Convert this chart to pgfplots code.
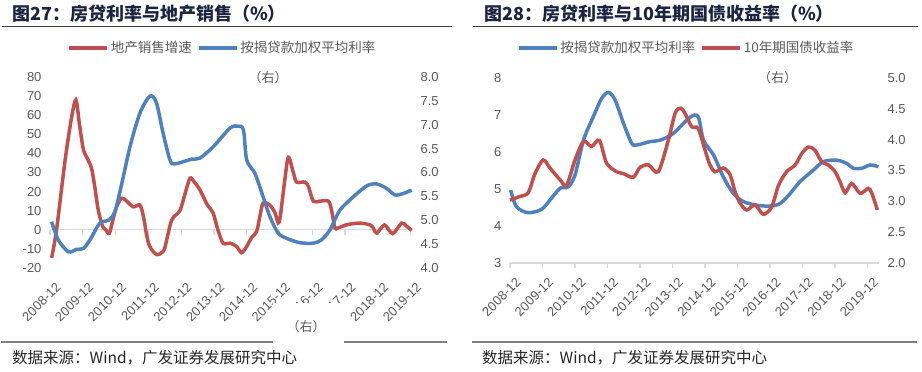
\documentclass[border=0pt]{standalone}
\usepackage{pgfplots}
\pgfplotsset{compat=1.18}
\usepackage{fontspec}
\setmainfont{Liberation Sans}
\newfontfamily\cjk{Noto Sans CJK SC}
\definecolor{myred}{HTML}{C0504D}
\definecolor{myblue}{HTML}{4F81BD}
\definecolor{txt}{HTML}{595959}
\definecolor{titlec}{HTML}{1B2440}
\definecolor{rulec}{HTML}{404040}
\definecolor{brule}{HTML}{808080}
\definecolor{zline}{HTML}{D9D9D9}
\pgfplotsset{
  base/.style={scale only axis, clip=false,
    /pgf/number format/assume math mode=true,
    ticklabel style={font=\fontsize{13}{15}\selectfont, text=txt},
    axis line style={draw=none}, major tick length=0pt, tick style={draw=none}},
  leg/.style={legend style={draw=none, fill=none, anchor=center,
      font=\cjk\fontsize{13.5}{15}\selectfont, text=txt,
      /tikz/every even column/.append style={column sep=3pt}},
    legend columns=2,
    legend image code/.code={\draw[##1] (0pt,0pt) -- (38pt,0pt);}},
  yrs/.style={xtick={0,1,2,3,4,5,6,7,8,9,10,11},
    xticklabels={2008-12,2009-12,2010-12,2011-12,2012-12,2013-12,2014-12,2015-12,2016-12,2017-12,2018-12,2019-12},
    xticklabel style={xshift=5pt, yshift=-9pt, rotate=45, anchor=north east}},
  rl/.style={color=myred, line width=3.5pt, smooth, tension=0.5},
  bl/.style={color=myblue, line width=3.5pt, smooth, tension=0.5},
}
\begin{document}
\begin{tikzpicture}
\path[use as bounding box] (0pt,0pt) rectangle (922pt,372pt);
% ---------------- left panel ----------------
\begin{axis}[base, yrs, leg, at={(50pt,104pt)}, anchor=south west, width=362pt, height=191pt,
  xmin=0, xmax=11.04, ymin=-20, ymax=80, ytick={-20,-10,...,80},
  axis y line*=left, axis x line*=bottom, yticklabel style={xshift=-5pt},
  legend style={at={(0.4765,1.152)}}]
\draw[zline, line width=1.3pt] (axis cs:0,0) -- (axis cs:11.04,0);
\pgfplotsinvokeforeach{0,1,2,3,4,5,6,7,8,9,10,11}{\draw[zline, line width=1.3pt] (axis cs:#1,0) -- ++(0pt,-5pt);}
\addplot[rl] coordinates {(0.05,-14.7) (0.2,0) (0.45,35) (0.65,58) (0.79,68) (0.9,55) (1.02,42) (1.15,37) (1.27,32) (1.37,22) (1.47,10.5) (1.6,2) (1.7,0) (1.81,-1.8) (1.93,6) (2.03,12) (2.18,16.5) (2.34,15) (2.54,12) (2.74,13) (2.85,7) (2.95,-3) (3.05,-9) (3.25,-13) (3.4,-12) (3.5,-9.5) (3.71,5) (3.96,10) (4.12,19) (4.27,27) (4.4,25) (4.57,21) (4.8,13) (4.97,9) (5.12,0) (5.28,-7) (5.49,-7) (5.69,-8.7) (5.84,-12) (6.0,-8.7) (6.15,-4) (6.3,-1) (6.4,7) (6.5,14) (6.7,13) (6.86,9) (6.99,4) (7.16,26) (7.27,38) (7.42,30) (7.52,25) (7.77,25) (7.88,22.7) (8.03,15) (8.23,15) (8.49,15) (8.59,10) (8.69,1) (8.79,1) (9.04,2.6) (9.45,3.5) (9.8,2.2) (9.96,-1.7) (10.2,2.5) (10.45,-2) (10.72,3.5) (10.87,2) (11.03,-0.3)};
\addlegendentry{地产销售增速}
\addlegendimage{bl}
\addlegendentry{按揭贷款加权平均利率}
\end{axis}
\begin{axis}[base, at={(50pt,104pt)}, anchor=south west, width=362pt, height=191pt,
  xmin=0, xmax=11.04, ymin=4, ymax=8, ytick={4,4.5,...,8},
  axis y line*=right, axis x line=none, yticklabel style={xshift=5pt},
  /pgf/number format/fixed, /pgf/number format/fixed zerofill, /pgf/number format/precision=1]
\addplot[bl] coordinates {(0.05,4.97) (0.25,4.59) (0.56,4.34) (0.81,4.39) (1.02,4.41) (1.22,4.59) (1.52,4.94) (1.78,5.0) (1.98,5.18) (2.19,5.77) (2.44,6.54) (2.74,7.24) (3.05,7.6) (3.25,7.45) (3.45,6.82) (3.66,6.26) (3.81,6.18) (4.32,6.28) (4.57,6.3) (4.98,6.54) (5.49,6.93) (5.74,6.97) (5.9,6.89) (6.0,6.26) (6.25,5.98) (6.5,5.49) (6.71,5.07) (6.96,4.73) (7.22,4.62) (7.62,4.53) (8.03,4.52) (8.28,4.59) (8.54,4.8) (8.84,5.21) (9.25,5.49) (9.66,5.72) (9.96,5.76) (10.26,5.67) (10.52,5.53) (10.77,5.56) (11.03,5.63)};
\end{axis}
% ---------------- right panel ----------------
\begin{axis}[base, yrs, leg, at={(510pt,109pt)}, anchor=south west, width=369pt, height=185pt,
  xmin=0, xmax=11.35, ymin=3, ymax=8, ytick={3,4,...,8},
  axis y line*=left, axis x line*=bottom, yticklabel style={xshift=-5pt},
  legend style={at={(0.477,1.162)}}]
\draw[zline, line width=1.3pt] (axis cs:0,3) -- (axis cs:11.35,3);
\pgfplotsinvokeforeach{0,1,2,3,4,5,6,7,8,9,10,11}{\draw[zline, line width=1.3pt] (axis cs:#1,3) -- ++(0pt,-5pt);}
\addplot[bl] coordinates {(0.02,4.97) (0.2,4.52) (0.56,4.36) (0.97,4.45) (1.23,4.70) (1.54,5.02) (1.79,5.06) (2.0,5.38) (2.26,6.32) (2.56,6.95) (2.82,7.45) (3.03,7.61) (3.23,7.41) (3.49,6.78) (3.74,6.24) (3.9,6.19) (4.31,6.28) (4.62,6.32) (5.02,6.5) (5.54,6.94) (5.79,6.95) (5.95,6.32) (6.26,5.92) (6.56,5.33) (6.87,4.88) (7.18,4.66) (7.59,4.56) (8.0,4.54) (8.31,4.61) (8.62,4.88) (8.92,5.2) (9.33,5.51) (9.64,5.74) (10.05,5.78) (10.36,5.69) (10.56,5.56) (10.82,5.56) (11.08,5.65) (11.33,5.6)};
\addlegendentry{按揭贷款加权平均利率}
\addlegendimage{rl}
\addlegendentry{10年期国债收益率}
\end{axis}
\begin{axis}[base, at={(510pt,109pt)}, anchor=south west, width=369pt, height=185pt,
  xmin=0, xmax=11.35, ymin=2, ymax=5, ytick={2,2.5,...,5},
  axis y line*=right, axis x line=none, yticklabel style={xshift=5pt},
  /pgf/number format/fixed, /pgf/number format/fixed zerofill, /pgf/number format/precision=1]
\addplot[rl] coordinates {(0,3.02) (0.31,3.08) (0.56,3.14) (0.77,3.45) (1.02,3.67) (1.23,3.54) (1.54,3.35) (1.74,3.26) (2.0,3.67) (2.26,3.97) (2.51,3.89) (2.75,3.99) (2.97,3.62) (3.28,3.48) (3.49,3.45) (3.79,3.39) (4.0,3.55) (4.26,3.59) (4.56,3.48) (4.87,3.99) (5.08,4.43) (5.25,4.51) (5.38,4.43) (5.59,4.21) (5.79,4.18) (6.0,3.83) (6.15,3.59) (6.31,3.48) (6.56,3.54) (6.77,3.43) (6.92,3.16) (7.08,2.97) (7.28,2.86) (7.54,2.94) (7.79,2.79) (8.05,2.91) (8.26,3.26) (8.51,3.48) (8.77,3.59) (8.98,3.78) (9.18,3.88) (9.38,3.83) (9.59,3.64) (9.79,3.59) (10.0,3.48) (10.15,3.32) (10.31,3.14) (10.51,3.29) (10.77,3.13) (11.02,3.21) (11.13,3.13) (11.3,2.86)};
\end{axis}
% ---------------- decorations ----------------
\node[anchor=west, inner sep=0, font=\cjk\bfseries\fontsize{18}{20}\selectfont, text=titlec] at (12pt,358pt) {图27：房贷利率与地产销售（\%）};
\node[anchor=west, inner sep=0, font=\cjk\bfseries\fontsize{18}{20}\selectfont, text=titlec] at (484pt,358pt) {图28：房贷利率与10年期国债收益率（\%）};
\draw[rulec, line width=1.2pt] (2pt,345.5pt) -- (452pt,345.5pt);
\draw[rulec, line width=1.2pt] (473pt,345.5pt) -- (918pt,345.5pt);
\node[inner sep=0, font=\cjk\fontsize{13}{15}\selectfont, text=txt] at (268pt,294pt) {（右）};
\node[inner sep=0, font=\cjk\fontsize{13}{15}\selectfont, text=txt] at (777.5pt,294pt) {（右）};
\draw[brule, line width=2pt] (1pt,30pt) -- (447pt,30pt);
\draw[brule, line width=2pt] (472pt,30pt) -- (917pt,30pt);
\fill[white] (273pt,24pt) rectangle (344pt,69pt);
\node[inner sep=0, font=\cjk\fontsize{13}{15}\selectfont, text=txt] at (306pt,45pt) {（右）};
\node[anchor=west, inner sep=0, font=\cjk\fontsize{15.5}{17}\selectfont, text=black!85] at (12pt,14pt) {数据来源：Wind，广发证券发展研究中心};
\node[anchor=west, inner sep=0, font=\cjk\fontsize{15.5}{17}\selectfont, text=black!85] at (482pt,14pt) {数据来源：Wind，广发证券发展研究中心};
\end{tikzpicture}
\end{document}
